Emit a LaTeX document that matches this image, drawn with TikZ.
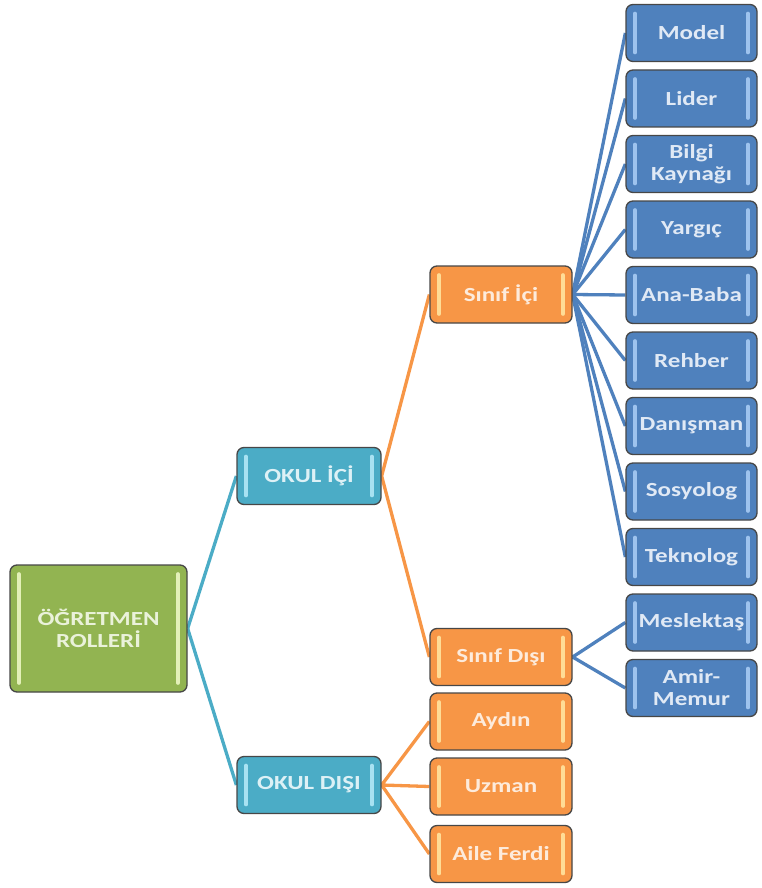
\documentclass[tikz,border=0pt]{standalone}
\usepackage{fontspec}
\setmainfont{Carlito}[FakeStretch=1.25]
\usetikzlibrary{backgrounds}
\definecolor{cgreen}{HTML}{92B451}
\definecolor{cteal}{HTML}{4BACC6}
\definecolor{corange}{HTML}{F79646}
\definecolor{cblue}{HTML}{4F81BD}
\definecolor{tgreen}{HTML}{EAF2DA}
\definecolor{tteal}{HTML}{DDF1F6}
\definecolor{torange}{HTML}{FDEBDC}
\definecolor{tblue}{HTML}{E0E9F5}
\definecolor{bgreen}{HTML}{E3F0B8}
\definecolor{bteal}{HTML}{A8E2F2}
\definecolor{borange}{HTML}{FFDC96}
\definecolor{bblue}{HTML}{9EC3EE}
\tikzset{
  rbox/.style n args={3}{draw=black!72, line width=1.3pt, rounded corners=7pt,
    fill=#1, text=#2, font=\bfseries\fontsize{20}{22}\selectfont, align=center, inner sep=0pt,
    path picture={
      \draw[#3, line width=3.6pt, line cap=round]
        ([xshift=9pt,yshift=9pt]path picture bounding box.south west) --
        ([xshift=9pt,yshift=-9pt]path picture bounding box.north west);
      \draw[#3, line width=3.6pt, line cap=round]
        ([xshift=-9pt,yshift=9pt]path picture bounding box.south east) --
        ([xshift=-9pt,yshift=-9pt]path picture bounding box.north east);
    }},
  gbox/.style={rbox={cgreen}{tgreen}{bgreen}, minimum width=177pt, minimum height=127pt},
  tbox/.style={rbox={cteal}{tteal}{bteal}, minimum width=144pt, minimum height=57pt},
  obox/.style={rbox={corange}{torange}{borange}, minimum width=142pt, minimum height=57pt},
  bbox/.style={rbox={cblue}{tblue}{bblue}, minimum width=131pt, minimum height=57pt},
  conn/.style={draw=#1, line width=3.3pt},
}
\begin{document}
\begin{tikzpicture}[x=1pt,y=-1pt]
\useasboundingbox (0,0) rectangle (762,888);
\node[gbox] (root) at (98.5,628.5) {ÖĞRETMEN\\ROLLERİ};
\node[tbox] (oi) at (309,476) {OKUL İÇİ};
\node[tbox] (od) at (309,785) {OKUL DIŞI};
\node[obox] (si) at (501,294.5) {Sınıf İçi};
\node[obox] (sd) at (501,657) {Sınıf Dışı};
\node[obox] (ay) at (501,721.5) {Aydın};
\node[obox] (uz) at (501,786.5) {Uzman};
\node[obox] (af) at (501,854) {Aile Ferdi};
\node[bbox] (l1) at (691.5,33) {Model};
\node[bbox] (l2) at (691.5,98.5) {Lider};
\node[bbox] (l3) at (691.5,164) {Bilgi\\Kaynağı};
\node[bbox] (l4) at (691.5,229.5) {Yargıç};
\node[bbox] (l5) at (691.5,295) {Ana-Baba};
\node[bbox] (l6) at (691.5,360.5) {Rehber};
\node[bbox] (l7) at (691.5,426) {Danışman};
\node[bbox] (l8) at (691.5,491.5) {Sosyolog};
\node[bbox] (l9) at (691.5,557) {Teknolog};
\node[bbox] (m1) at (691.5,622.5) {Meslektaş};
\node[bbox] (m2) at (691.5,688) {Amir-\\Memur};
\begin{scope}[on background layer]
  \draw[conn=cteal] (root.east) -- (oi.west);
  \draw[conn=cteal] (root.east) -- (od.west);
  \draw[conn=corange] (oi.east) -- (si.west);
  \draw[conn=corange] (oi.east) -- (sd.west);
  \draw[conn=corange] (od.east) -- (ay.west);
  \draw[conn=corange] (od.east) -- (uz.west);
  \draw[conn=corange] (od.east) -- (af.west);
  \foreach \n in {l1,l2,l3,l4,l5,l6,l7,l8,l9}
    \draw[conn=cblue] (si.east) -- (\n.west);
  \draw[conn=cblue] (sd.east) -- (m1.west);
  \draw[conn=cblue] (sd.east) -- (m2.west);
\end{scope}
\end{tikzpicture}
\end{document}
